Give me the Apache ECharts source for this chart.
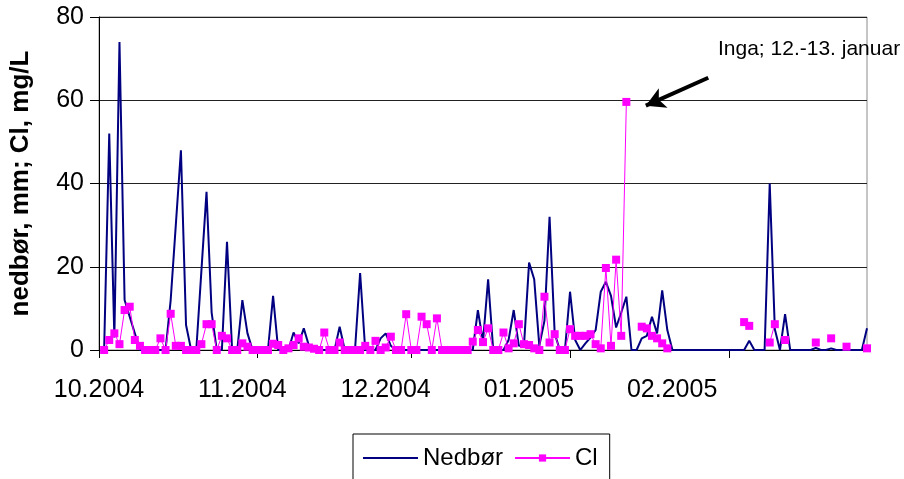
<!DOCTYPE html>
<html>
<head>
<meta charset="utf-8">
<script src="https://cdn.jsdelivr.net/npm/echarts@6/dist/echarts.min.js"></script>
<style>
html,body{margin:0;padding:0;background:#fff;}
#c{width:904px;height:479px;}
</style>
</head>
<body>
<div id="c"></div>
<script>
// Day index: 0 = 1 Oct 2004. Values below start at day 1 (2 Oct 2004).
const firstDay = 1;
const nedbor = [
  0, 52, 3, 74, 12, 8, 4, 0, 0, 0,          // d1-d10
  0, 0, 0, 12, 30, 48, 6, 0, 0, 19,         // d11-d20
  38, 9, 0, 0, 26, 0, 0, 12, 4, 0,          // d21-d30
  0, 0, 0, 13, 0, 0, 0, 4.2, 1.6, 5.2,      // d31-d40
  1, 0, 0, 0, 0, 0, 5.6, 0, 0, 0,           // d41-d50
  18.5, 0, 0, 0, 2.8, 4, 1, 0, 0, 0,        // d51-d60
  0, 0, 0, 0, 0, 0, 0, 0, 0, 0,             // d61-d70
  0, 0, 0, 9.6, 2, 17, 0, 0, 0, 2.4,        // d71-d80
  9.6, 1, 1, 21, 17, 1, 7, 32, 4, 0,        // d81-d90
  0, 14, 2.4, 0, 1.6, 3, 4.8, 14, 16.4, 13, // d91-d100
  5.4, 9, 12.8, 0, 0, 2.8, 3.4, 8, 4, 14.3, // d101-d110
  4.8, 0, 0, 0, 0, 0, 0, 0, 0, 0,           // d111-d120
  0, 0, 0, 0, 0, 0, 2.2, 0, 0, 0,           // d121-d130
  40, 5, 0, 8.6, 0, 0, 0, 0, 0, 0.5,        // d131-d140
  0, 0, 0.4, 0, 0, 0, 0, 0, 0, 5.2          // d141-d150
];
const cl = [
  0, 2.4, 4, 1.4, 9.6, 10.4, 2.4, 1, 0, 0,          // d1-d10
  0, 2.8, 0, 8.7, 1, 1, 0, 0, 0, 1.4,               // d11-d20
  6.2, 6.2, 0, 3.4, 2.8, 0, 0, 1.6, 0.8, 0,         // d21-d30
  0, 0, 0, 1.5, 1.2, 0, 0.4, 1.2, 2.8, 0.8,         // d31-d40
  0.6, 0.3, 0, 4.2, 0, 0, 1.8, 0, 0, 0,             // d41-d50
  0, 1, 0, 2.2, 0, 0.6, 3.2, 0, 0, 8.6,             // d51-d60
  0, 0, 8, 6.2, 0, 7.6, 0, 0, 0, 0,                 // d61-d70
  0, 0, 2, 4.8, 1.9, 5.2, 0, 0, 4.2, 0.4,           // d71-d80
  1.6, 6.2, 1.4, 1.2, 0.4, 0, 12.8, 1.8, 3.8, 0,    // d81-d90
  0, 5, 3.4, 3.4, 3.4, 3.8, 1.4, 0.4, 19.7, 1,      // d91-d100
  21.7, 3.4, 59.6, null, null, 5.6, 5.2, 3.4, 2.8, 1.6, // d101-d110
  0.4, null, null, null, null, null, null, null, null, null, // d111-d120
  null, null, null, null, null, 6.7, 5.8, null, null, null,  // d121-d130
  1.8, 6.2, null, 2.4, null, null, null, null, null, 1.8,    // d131-d140
  null, null, 2.8, null, null, 0.8, null, null, null, 0.4    // d141-d150
];
const seriesNames = ['Nedbør', 'Cl'];
const tickLabels = ['10.2004', '11.2004', '12.2004', '01.2005', '02.2005'];
const monthStartDays = [0, 31, 61, 92, 123];
const lastDay = 150;
const yTicks = [0, 20, 40, 60, 80];
const yTitle = 'nedbør, mm; Cl, mg/L';
const noteText = 'Inga; 12.-13. januar';
const noteArrow = { from: [119, 65.4], to: [106.8, 58.7] };

const FONT = "'Liberation Sans', Arial, sans-serif";
const toPairs = arr => arr.map((v, i) => [firstDay + i, v]);

const chart = echarts.init(document.getElementById('c'), null, { renderer: 'canvas' });
chart.setOption({
  animation: false,
  backgroundColor: '#fff',
  grid: { left: 97, right: 37, top: 17, bottom: 129, containLabel: false,
          show: true, borderColor: '#8a8a8a', borderWidth: 1, backgroundColor: 'transparent' },
  xAxis: [
    {
      type: 'value', min: 0, max: lastDay,
      axisLine: { show: true, onZero: false, lineStyle: { color: '#000', width: 1 } },
      axisTick: { show: true, inside: false, length: 8, customValues: monthStartDays,
                  lineStyle: { color: '#000', width: 1 } },
      axisLabel: { show: false },
      splitLine: { show: false }
    },
    {
      type: 'value', min: 0, max: 5.36, position: 'bottom',
      axisLine: { show: false }, axisTick: { show: false }, splitLine: { show: false },
      axisLabel: {
        show: true, customValues: [0, 1, 2, 3, 4], margin: 28,
        formatter: v => tickLabels[Math.round(v)] || '',
        fontFamily: FONT, fontSize: 25, color: '#000'
      }
    }
  ],
  yAxis: {
    type: 'value', min: yTicks[0], max: yTicks[yTicks.length - 1], interval: 20,
    name: yTitle, nameLocation: 'middle', nameRotate: 90, nameGap: 65,
    nameTextStyle: { fontFamily: FONT, fontSize: 26, fontWeight: 'bold', color: '#000' },
    axisLine: { show: true, lineStyle: { color: '#000', width: 1 } },
    axisTick: { show: true, inside: false, length: 9, lineStyle: { color: '#000' } },
    axisLabel: { margin: 15, fontFamily: FONT, fontSize: 25, color: '#000' },
    splitLine: { show: true, lineStyle: { color: '#222', width: 1 } }
  },
  legend: {
    data: [
      { name: seriesNames[0], itemStyle: { opacity: 0 } },
      { name: seriesNames[1] }
    ],
    left: 353, top: 434, orient: 'horizontal',
    borderColor: '#000', borderWidth: 1, borderRadius: 0, padding: [12, 12, 14, 9],
    itemWidth: 55, itemHeight: 9, itemGap: 11,
    textStyle: { fontFamily: FONT, fontSize: 24, color: '#000' }
  },
  graphic: [{
    type: 'text', x: 718, y: 49, silent: true,
    style: { text: noteText, fontFamily: FONT, fontSize: 21, fill: '#000',
             textAlign: 'left', textVerticalAlign: 'middle' }
  }],
  series: [
    {
      name: seriesNames[0], type: 'line', xAxisIndex: 0, data: toPairs(nedbor),
      symbol: 'none', showSymbol: false, connectNulls: false,
      lineStyle: { color: '#000080', width: 2 }, itemStyle: { color: '#000080' }
    },
    {
      name: seriesNames[1], type: 'line', xAxisIndex: 0, data: toPairs(cl),
      symbol: 'rect', symbolSize: 8, showSymbol: true, connectNulls: false,
      lineStyle: { color: '#FF00FF', width: 1 }, itemStyle: { color: '#FF00FF' },
      markLine: {
        silent: true, animation: false,
        symbol: ['none', 'arrow'], symbolSize: [16, 19],
        label: { show: false },
        lineStyle: { color: '#000', width: 4, type: 'solid' },
        emphasis: { disabled: true },
        data: [[{ coord: noteArrow.from }, { coord: noteArrow.to }]]
      }
    }
  ]
});
</script>
</body>
</html>
